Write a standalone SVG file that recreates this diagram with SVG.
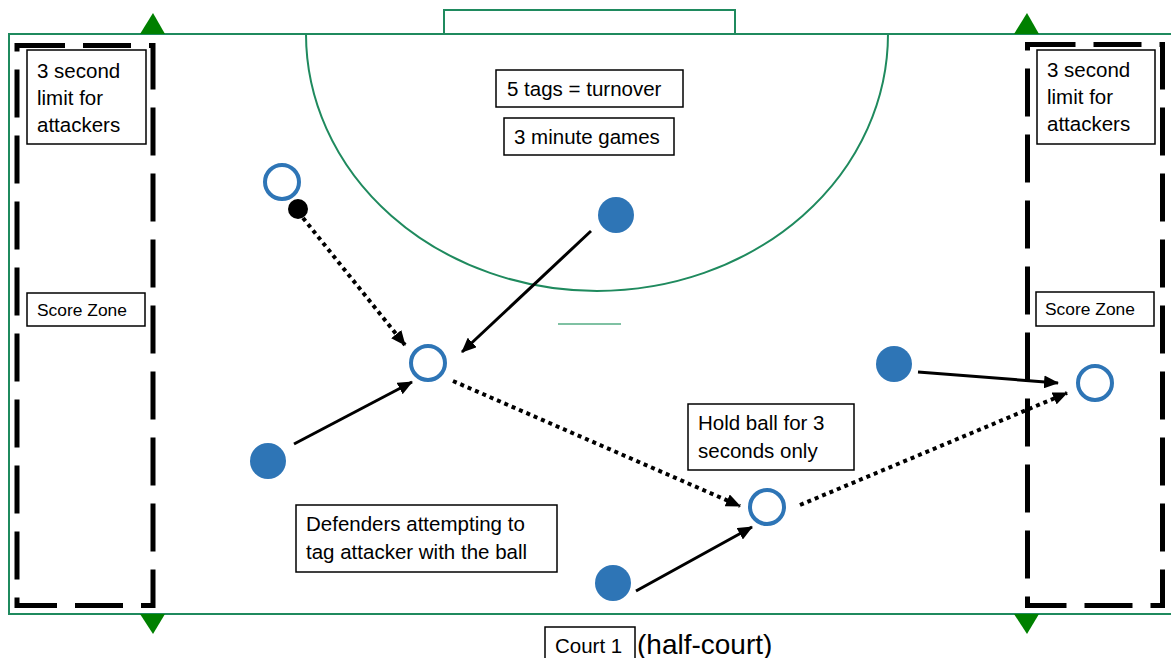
<svg xmlns="http://www.w3.org/2000/svg" width="1171" height="658" viewBox="0 0 1171 658">
<style>
.court{fill:none;stroke:#1F8A5E;stroke-width:2}
.tri{fill:#008000}
.zone{fill:none;stroke:#000;stroke-width:5;stroke-dasharray:48 18}
.box{fill:#fff;stroke:#000;stroke-width:1.5}
.t{font-family:"Liberation Sans",Arial,sans-serif;font-size:20.5px;fill:#000}
.ts{font-family:"Liberation Sans",Arial,sans-serif;font-size:17.4px;fill:#000}
.def{fill:#2E75B6}
.att{fill:#fff;stroke:#2E75B6;stroke-width:4}
.solid{stroke:#000;stroke-width:3;fill:none}
.dot{stroke:#000;stroke-width:4;stroke-dasharray:4 4;fill:none}
</style>
<defs>
<marker id="ah" markerUnits="userSpaceOnUse" markerWidth="15" markerHeight="13" refX="14" refY="6.5" orient="auto">
<path d="M0,0 L15,6.5 L0,13 z" fill="#000"/>
</marker>
</defs>
<rect width="1171" height="658" fill="#fff"/>
<g id="court">
<path class="court" d="M1171,34 H9 V614 H1171"/>
<rect class="court" x="444" y="10" width="291" height="24"/>
<path class="court" d="M306,34 A291,257 0 0 0 888,34" stroke-width="1.5"/>
<line x1="558" y1="324" x2="621" y2="324" stroke="#7FC1A3" stroke-width="2"/>
<polygon class="tri" points="140,34 165,34 153,13"/>
<polygon class="tri" points="1014,34 1039,34 1027,13"/>
<polygon class="tri" points="140,614 165,614 153,634"/>
<polygon class="tri" points="1014,614 1039,614 1027,634"/>
</g>
<g id="zone-left">
<rect class="zone" x="17" y="45.5" width="136" height="560"/>
</g>
<g id="zone-right">
<rect class="zone" x="1027.5" y="44.5" width="135" height="561"/>
</g>
<g id="connectors">
<line class="dot" x1="303" y1="218" x2="405" y2="345" marker-end="url(#ah)"/>
<line class="solid" x1="591" y1="231" x2="462" y2="352" marker-end="url(#ah)"/>
<line class="solid" x1="294" y1="444" x2="412" y2="382" marker-end="url(#ah)"/>
<line class="dot" x1="453" y1="381" x2="740" y2="506" marker-end="url(#ah)"/>
<line class="solid" x1="636" y1="591" x2="752" y2="527" marker-end="url(#ah)"/>
<line class="dot" x1="800" y1="505" x2="1067" y2="393" marker-end="url(#ah)"/>
<line class="solid" x1="918" y1="372" x2="1058" y2="383" marker-end="url(#ah)"/>
</g>
<g id="label-limit-left">
<rect class="box" x="27" y="50" width="119" height="94"/>
<text class="t" x="37" y="78">3 second</text>
<text class="t" x="37" y="105">limit for</text>
<text class="t" x="37" y="132">attackers</text>
</g>
<g id="label-limit-right">
<rect class="box" x="1037" y="50" width="118" height="94"/>
<text class="t" x="1047" y="77">3 second</text>
<text class="t" x="1047" y="104">limit for</text>
<text class="t" x="1047" y="131">attackers</text>
</g>
<g id="label-tags">
<rect class="box" x="496" y="70" width="187" height="37"/>
<text class="t" x="507" y="96">5 tags = turnover</text>
</g>
<g id="label-games">
<rect class="box" x="504" y="118" width="170" height="37"/>
<text class="t" x="514" y="144">3 minute games</text>
</g>
<g id="label-score-left">
<rect class="box" x="27" y="293" width="118" height="33"/>
<text class="ts" x="37" y="316">Score Zone</text>
</g>
<g id="label-score-right">
<rect class="box" x="1036" y="292" width="118" height="34"/>
<text class="ts" x="1045" y="315">Score Zone</text>
</g>
<g id="label-hold">
<rect class="box" x="688" y="404" width="166" height="66"/>
<text class="t" x="698" y="430">Hold ball for 3</text>
<text class="t" x="698" y="458">seconds only</text>
</g>
<g id="label-defenders">
<rect class="box" x="296" y="505" width="261" height="67"/>
<text class="t" x="306" y="531">Defenders attempting to</text>
<text class="t" x="306" y="559">tag attacker with the ball</text>
</g>
<g id="label-court">
<rect class="box" x="545" y="627" width="90" height="40"/>
<text class="t" x="555" y="653">Court 1</text>
<text class="t" x="637" y="654" style="font-size:28px">(half-court)</text>
</g>
<g id="defender-1"><circle class="def" cx="616" cy="215" r="18"/></g>
<g id="defender-2"><circle class="def" cx="268" cy="461" r="18"/></g>
<g id="defender-3"><circle class="def" cx="894" cy="364" r="18"/></g>
<g id="defender-4"><circle class="def" cx="613" cy="583" r="18"/></g>
<g id="attacker-1"><circle class="att" cx="282" cy="182" r="17"/></g>
<g id="attacker-2"><circle class="att" cx="428" cy="363" r="17"/></g>
<g id="attacker-3"><circle class="att" cx="767" cy="507" r="17"/></g>
<g id="attacker-4"><circle class="att" cx="1095" cy="383" r="17"/></g>
<g id="ball"><circle cx="298" cy="209" r="10" fill="#000"/></g>
</svg>
